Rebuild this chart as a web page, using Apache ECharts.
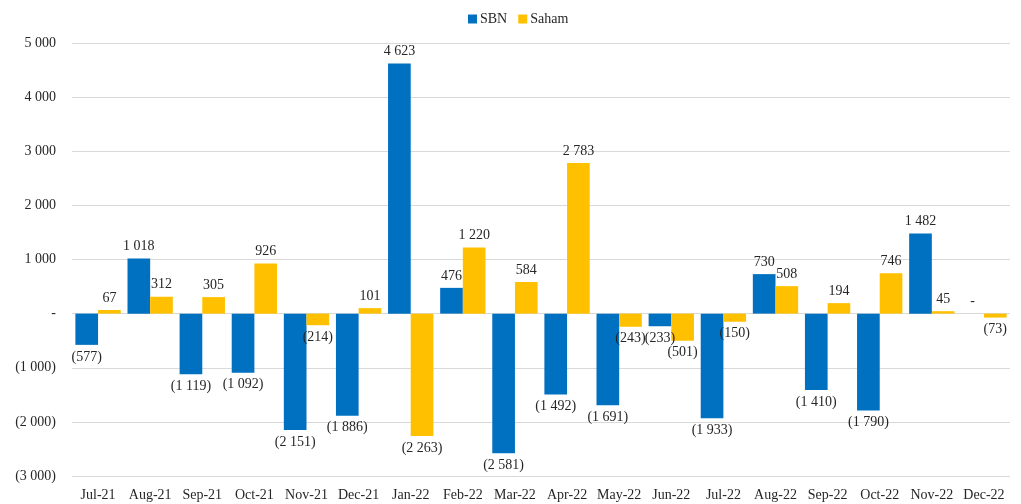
<!DOCTYPE html>
<html>
<head>
<meta charset="utf-8">
<script src="https://cdn.jsdelivr.net/npm/echarts@6/dist/echarts.min.js"></script>
<style>
  html, body { margin: 0; padding: 0; background: #fff; }
  #chart { width: 1021px; height: 504px; }
</style>
</head>
<body>
<div id="chart"></div>
<script>
var months = ['Jul-21', 'Aug-21', 'Sep-21', 'Oct-21', 'Nov-21', 'Dec-21', 'Jan-22', 'Feb-22', 'Mar-22',
	'Apr-22', 'May-22', 'Jun-22', 'Jul-22', 'Aug-22', 'Sep-22', 'Oct-22', 'Nov-22', 'Dec-22'];
var sbn = [-577, 1018, -1119, -1092, -2151, -1886, 4623, 476, -2581,
	-1492, -1691, -233, -1933, 730, -1410, -1790, 1482, 0];
var saham = [67, 312, 305, 926, -214, 101, -2263, 1220, 584,
	2783, -243, -501, -150, 508, 194, 746, 45, -73];

var font = 'Liberation Serif';
var textColor = '#262626';

// 1 234 / (1 234) / -
function fmt(v) {
	if (v == 0) {
		return '-';
	}
	var s = String(Math.abs(v)).replace(/\B(?=(\d{3})+(?!\d))/g, ' ');
	return v < 0 ? '(' + s + ')' : s;
}

function makeData(arr) {
	return arr.map(function(v) {
		return {
			value : v,
			label : {
				position : v < 0 ? 'bottom' : 'top'
			}
		};
	});
}

var chart = echarts.init(document.getElementById('chart'));

var labelCfg = {
	show : true,
	distance : 5,
	fontFamily : font,
	fontSize : 14,
	color : textColor,
	formatter : function(p) { return fmt(p.value); }
};

var option = {
	animation : false,
	textStyle : {
		fontFamily : font
	},
	legend : {
		top : 7,
		left : 463,
		itemWidth : 9,
		itemHeight : 9,
		itemGap : 11,
		icon : 'rect',
		textStyle : {
			fontFamily : font,
			fontSize : 14,
			color : textColor,
			padding : [0, 0, 0, -2]
		},
		data : ['SBN', 'Saham']
	},
	grid : {
		left : 72,
		right : 11,
		top : 43,
		bottom : 28,
		containLabel : false
	},
	xAxis : {
		type : 'category',
		data : months,
		axisLine : { show : false },
		axisTick : { show : false },
		axisLabel : {
			interval : 0,
			margin : 12,
			fontFamily : font,
			fontSize : 14,
			color : textColor
		}
	},
	yAxis : {
		type : 'value',
		min : -3000,
		max : 5000,
		interval : 1000,
		axisLine : { show : false },
		axisTick : { show : false },
		splitLine : {
			lineStyle : { color : '#d9d9d9', width : 1 }
		},
		axisLabel : {
			margin : 16,
			fontFamily : font,
			fontSize : 14,
			color : textColor,
			formatter : fmt
		}
	},
	series : [{
		name : 'SBN',
		type : 'bar',
		data : makeData(sbn),
		barGap : '0%',
		barCategoryGap : '13%',
		itemStyle : { color : '#0070C0' },
		label : labelCfg
	}, {
		name : 'Saham',
		type : 'bar',
		data : makeData(saham),
		barGap : '0%',
		barCategoryGap : '13%',
		itemStyle : { color : '#FFC000' },
		label : labelCfg
	}]
};

chart.setOption(option);
</script>
</body>
</html>
